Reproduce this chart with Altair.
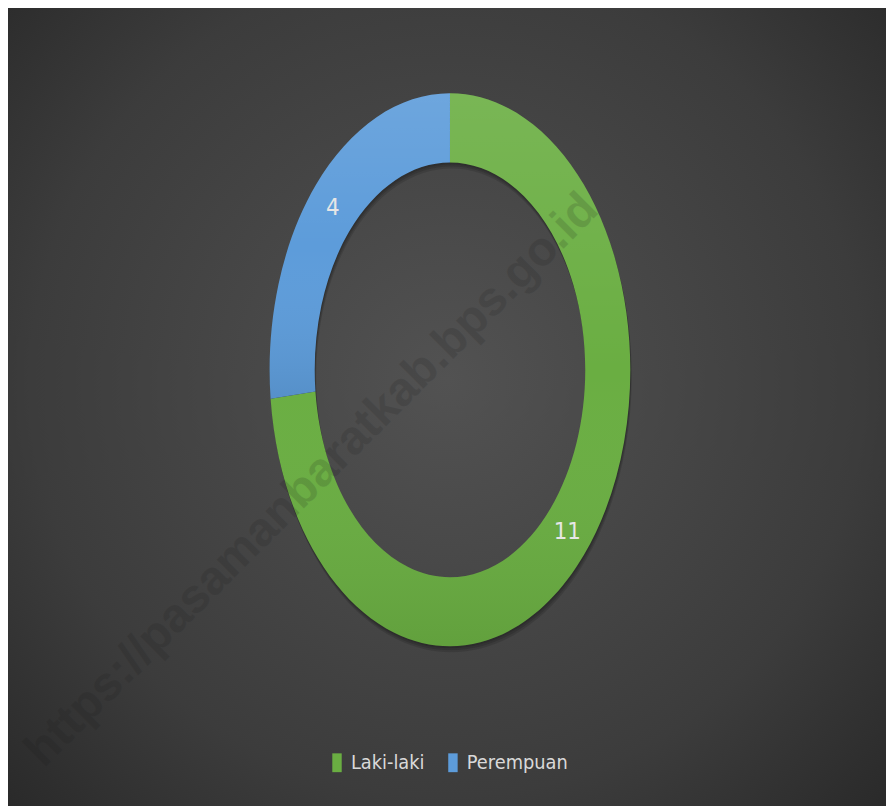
import altair as alt
import pandas as pd

# ---- data ----
categories = ["Laki-laki", "Perempuan"]
values = [11, 4]
colors = ["#6aae42", "#5d9cda"]
watermark = "https://pasamanbaratkab.bps.go.id"

df = pd.DataFrame({"sex": categories, "count": values, "order": [1, 2]})

W, H = 886, 798
RX, RY, HOLE = 182.0, 279.0, 0.75      # outer semi-axes (px) and hole ratio
AO, BO = RX / RY, 1.0
AI, BI = AO * HOLE, BO * HOLE
SIZE = (2 * RY) ** 2                    # custom symbol: unit square -> sqrt(size)
NSEG = 4
FONT = "Liberation Sans Narrow, DejaVu Sans Condensed, sans-serif"

xs = alt.Scale(domain=[-446, 440], nice=False, zero=False)
ys = alt.Scale(domain=[-436.5, 361.5], nice=False, zero=False)


def f(e):
    # plain JS number -> string (ASCII minus), rounded to 5 decimals
    return f"(round(({e})*100000)/100000)"


def P(a, b, th):
    return f(f"{a:.6f}*sin(datum.{th})") + " + ',' + " + f(f"{-b:.6f}*cos(datum.{th})")


def seg(a, b, ta, tb, fwd=True):
    if fwd:
        c1 = (f"{a:.6f}*(sin(datum.{ta})+datum.k*cos(datum.{ta}))",
              f"{b:.6f}*(-cos(datum.{ta})+datum.k*sin(datum.{ta}))")
        c2 = (f"{a:.6f}*(sin(datum.{tb})-datum.k*cos(datum.{tb}))",
              f"{b:.6f}*(-cos(datum.{tb})-datum.k*sin(datum.{tb}))")
        end = tb
    else:
        c1 = (f"{a:.6f}*(sin(datum.{tb})-datum.k*cos(datum.{tb}))",
              f"{b:.6f}*(-cos(datum.{tb})-datum.k*sin(datum.{tb}))")
        c2 = (f"{a:.6f}*(sin(datum.{ta})+datum.k*cos(datum.{ta}))",
              f"{b:.6f}*(-cos(datum.{ta})+datum.k*sin(datum.{ta}))")
        end = ta
    return ("' C' + " + f(c1[0]) + " + ',' + " + f(c1[1]) + " + ' ' + " +
            f(c2[0]) + " + ',' + " + f(c2[1]) + " + ' ' + " + P(a, b, end))


parts = ["'M' + " + P(AO, BO, "th0")]
for j in range(NSEG):
    parts.append(seg(AO, BO, f"th{j}", f"th{j+1}", True))
parts.append("' L' + " + P(AI, BI, f"th{NSEG}"))
for j in range(NSEG - 1, -1, -1):
    parts.append(seg(AI, BI, f"th{j}", f"th{j+1}", False))
parts.append("' Z'")
path_expr = " + ".join(parts)

ths = {f"th{j}": f"datum.t0 + {j}*(datum.t1 - datum.t0)/{NSEG}" for j in range(NSEG + 1)}

base = alt.Chart(df).transform_joinaggregate(
    total="sum(count)"
).transform_window(
    cum="sum(count)", sort=[alt.SortField("order")], frame=[None, 0]
).transform_calculate(
    t1="2*PI*datum.cum/datum.total",
    t0="2*PI*(datum.cum - datum.count)/datum.total",
).transform_calculate(
    mid="(datum.t0 + datum.t1)/2",
    k=f"4/3*tan((datum.t1 - datum.t0)/{NSEG}/4)",
    c0="0",
    **ths,
).transform_calculate(
    path=path_expr,
    lx=f"{RX*(1+HOLE)/2}*sin(datum.mid)",
    ly=f"{RY*(1+HOLE)/2}*cos(datum.mid)",
)

pos = dict(
    x=alt.X("c0:Q", scale=xs, axis=None),
    y=alt.Y("c0:Q", scale=ys, axis=None),
    shape=alt.Shape("path:N", scale=None, legend=None),
    size=alt.value(SIZE),
)

bg = alt.Chart(alt.Data(values=[{"a": 1}])).mark_rect(
    fill=alt.RadialGradient(
        gradient="radial", x1=0.5, y1=0.47, r1=0, x2=0.5, y2=0.47, r2=0.72,
        stops=[alt.GradientStop(color="#525252", offset=0),
               alt.GradientStop(color="#3c3c3c", offset=0.65),
               alt.GradientStop(color="#272727", offset=1)],
    ),
    strokeWidth=0,
).encode(x=alt.value(-6), x2=alt.value(W + 6), y=alt.value(-6), y2=alt.value(H + 6))

shadows = [
    base.mark_point(filled=True, strokeWidth=0, opacity=0.12, color="black",
                    yOffset=dy, xOffset=dy / 4).encode(**pos)
    for dy in (2, 4, 6)
]

slices = base.mark_point(filled=True, strokeWidth=0, opacity=1).encode(
    **pos,
    color=alt.Color("sex:N", scale=alt.Scale(domain=categories, range=colors),
                    legend=None),
)

shade = base.mark_point(
    filled=True, strokeWidth=0, opacity=1,
    fill=alt.LinearGradient(
        gradient="linear", x1=0, y1=0, x2=0, y2=1,
        stops=[alt.GradientStop(color="rgba(255,255,255,0.10)", offset=0),
               alt.GradientStop(color="rgba(255,255,255,0)", offset=0.5),
               alt.GradientStop(color="rgba(0,0,0,0.08)", offset=1)],
    ),
).encode(**pos)

labels = base.mark_text(
    font=FONT, fontSize=24, color="#e6e6e6", align="center", baseline="middle",
).encode(
    x=alt.X("lx:Q", scale=xs, axis=None),
    y=alt.Y("ly:Q", scale=ys, axis=None),
    text=alt.Text("count:Q"),
)

legend_layer = alt.Chart(df).mark_square(opacity=0).transform_filter(
    "datum.count < 0"
).encode(
    color=alt.Color(
        "sex:N",
        scale=alt.Scale(domain=categories, range=colors),
        legend=alt.Legend(
            title=None, orient="none", legendX=322, legendY=748,
            direction="horizontal", symbolType="M-0.5,-1H0.5V1H-0.5Z",
            symbolSize=361, symbolStrokeWidth=0, symbolOpacity=1,
            labelColor="#d9d9d9", labelFontSize=20, labelFont=FONT,
            labelOffset=4, columnPadding=18, padding=0,
        ),
    ),
)

wm = alt.Chart(alt.Data(values=[{"t": watermark}])).mark_text(
    font="Liberation Sans", fontWeight="bold", fontSize=48, angle=315,
    color="#1a1a1a", opacity=0.15, align="center", baseline="middle",
).encode(x=alt.value(307), y=alt.value(473), text="t:N")

chart = alt.layer(bg, *shadows, slices, shade, labels, wm, legend_layer).resolve_scale(
    color="independent"
).resolve_legend(color="independent").properties(
    width=W, height=H, autosize=alt.AutoSizeParams(type="none"), padding=0,
).configure(background="#2b2b2b").configure_view(stroke=None)

chart.save("out.html", embed_options={"renderer": "svg", "actions": False})
